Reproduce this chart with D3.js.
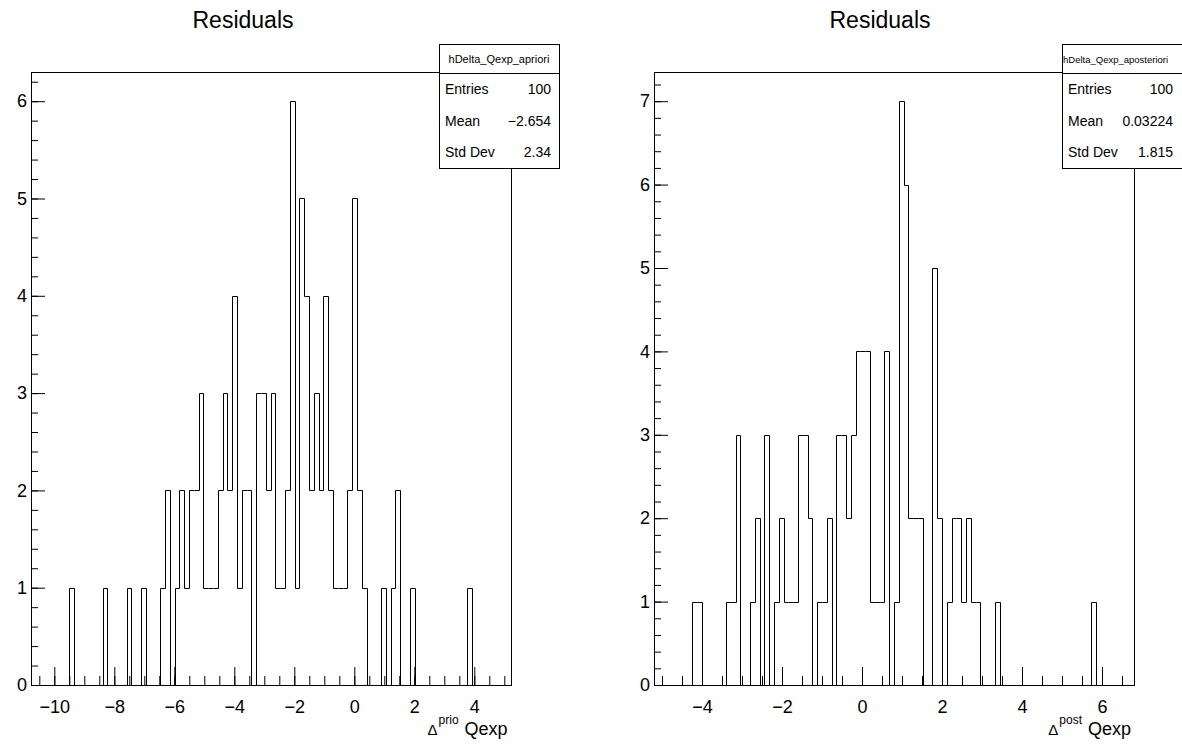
<!DOCTYPE html>
<html><head><meta charset="utf-8">
<script src="https://cdn.jsdelivr.net/npm/d3@7"></script>
<style>
html,body{margin:0;padding:0;background:#fff;}
svg{display:block;font-family:"Liberation Sans",Arial,Helvetica,sans-serif;}
</style></head><body>
<svg id="c" width="1182" height="744"></svg>
<script>
// ---------- data ----------
const leftCounts = [
  0,0,0,0,0,0,0,0,1,0,
  0,0,0,0,0,1,0,0,0,0,
  1,0,0,1,0,0,0,1,2,0,
  1,2,1,2,2,3,1,1,1,2,
  3,2,4,1,2,2,0,3,3,2,
  3,1,1,2,6,1,5,4,2,3,
  2,4,2,1,1,1,2,5,2,1,
  0,0,0,1,0,1,2,0,0,1,
  0,0,0,0,0,0,0,0,0,0,
  0,1,0,0,0,0,0,0,0,0
];
const rightCounts = [
  0,0,0,0,0,0,0,0,1,1,
  0,0,0,0,0,1,1,3,0,0,
  1,2,0,3,0,1,2,1,1,1,
  3,3,2,0,1,1,2,0,3,3,
  2,3,4,4,4,1,1,1,4,0,
  1,7,6,2,2,2,0,0,5,2,
  0,1,2,2,1,2,1,1,0,0,
  0,1,0,0,0,0,0,0,0,0,
  0,0,0,0,0,0,0,0,0,0,
  0,1,0,0,0,0,0,0,0,0
];
const leftRange = [-10.79, 5.21];
const rightRange = [-5.2, 6.8];
const leftXTicks = [-10,-8,-6,-4,-2,0,2,4];
const rightXTicks = [-4,-2,0,2,4,6];
const leftYTicks = [0,1,2,3,4,5,6];
const rightYTicks = [0,1,2,3,4,5,6,7];
const leftTitle = "Residuals";
const rightTitle = "Residuals";
const leftStatName = "hDelta_Qexp_apriori";
const rightStatName = "hDelta_Qexp_aposteriori";
const statLabels = ["Entries","Mean","Std Dev"];
const leftStatValues = ["100","\u22122.654","2.34"];
const rightStatValues = ["100","0.03224","1.815"];
const leftXSup = "prio";
const rightXSup = "post";

// ---------- drawing ----------
const svg = d3.select("#c");
svg.append("rect").attr("width",1182).attr("height",744).attr("fill","#fff");
const fmtTick = d => d<0 ? "\u2212"+Math.abs(d) : String(d);

function panel(p){
  const g = svg.append("g");
  const x = d3.scaleLinear().domain(p.range).range([p.x0, p.x1]);
  const maxC = d3.max(p.counts);
  const y = d3.scaleLinear().domain([0, maxC*1.05]).range([p.y0, p.y1]);
  const n = p.counts.length;
  const bw = (p.range[1]-p.range[0])/n;

  // frame
  g.append("rect")
    .attr("x", Math.round(p.x0)+0.5).attr("y", Math.round(p.y1)+0.5)
    .attr("width", Math.round(p.x1)-Math.round(p.x0))
    .attr("height", Math.round(p.y0)-Math.round(p.y1))
    .attr("fill","none").attr("stroke","#000").attr("stroke-width",1);

  // histogram outline
  const pts = [[p.range[0],0]];
  p.counts.forEach((c,i)=>{
    const a = p.range[0]+i*bw, b = p.range[0]+(i+1)*bw;
    pts.push([a,c],[b,c]);
  });
  pts.push([p.range[1],0]);
  const line = d3.line().x(d=>Math.round(x(d[0]))+0.5).y(d=>Math.round(y(d[1]))+0.5);
  g.append("path").attr("d", line(pts)).attr("fill","none")
    .attr("stroke","#000").attr("stroke-width",1);

  // x axis minor ticks
  const xmin = d3.range(Math.ceil(p.range[0]*2)/2, p.range[1]+1e-9, 0.5);
  const xMinorAx = d3.axisBottom(x).tickValues(xmin).tickSize(-9).tickFormat("").tickSizeOuter(0);
  const gxm = g.append("g").attr("transform",`translate(0,${Math.round(p.y0)})`).call(xMinorAx);
  gxm.select(".domain").remove();
  // x axis major
  const xAx = d3.axisBottom(x).tickValues(p.xticks).tickSize(-18).tickPadding(15)
    .tickFormat(fmtTick).tickSizeOuter(0);
  const gx = g.append("g").attr("transform",`translate(0,${Math.round(p.y0)})`).call(xAx);
  gx.select(".domain").remove();
  gx.selectAll("text").attr("font-size",18).attr("font-family","'Liberation Sans',Arial,sans-serif").attr("fill","#000");

  // y axis
  const ymin = d3.range(0, maxC*1.05+1e-9, 0.2);
  const yMinorAx = d3.axisLeft(y).tickValues(ymin).tickSize(-7).tickFormat("").tickSizeOuter(0);
  const gym = g.append("g").attr("transform",`translate(${Math.round(p.x0)},0)`).call(yMinorAx);
  gym.select(".domain").remove();
  const yAx = d3.axisLeft(y).tickValues(p.yticks).tickSize(-14).tickPadding(4)
    .tickFormat(fmtTick).tickSizeOuter(0);
  const gy = g.append("g").attr("transform",`translate(${Math.round(p.x0)},0)`).call(yAx);
  gy.select(".domain").remove();
  gy.selectAll("text").attr("font-size",18).attr("font-family","'Liberation Sans',Arial,sans-serif").attr("fill","#000");
  g.selectAll(".tick line").attr("stroke","#000");

  // x title
  const t = g.append("text").attr("x", p.x1-3).attr("y", 735).attr("text-anchor","end").attr("fill","#000");
  t.append("tspan").attr("font-size",15).text("\u0394");
  t.append("tspan").attr("font-size",12).attr("dy",-11).attr("dx",1).text(p.sup);
  t.append("tspan").attr("font-size",18).attr("dy",11).attr("dx",6).text("Qexp");

  // title
  g.append("text").attr("x", p.titleX).attr("y", 28).attr("text-anchor","middle")
    .attr("font-size",23).attr("fill","#000").text(p.title);

  // stat box
  const bx0 = Math.round(p.x1)-72, bx1 = Math.round(p.x1)+48;
  const by0 = 44, byd = 73, by1 = 168;
  g.append("rect").attr("x",bx0+0.5).attr("y",by0+0.5).attr("width",bx1-bx0).attr("height",by1-by0)
    .attr("fill","#fff").attr("stroke","#000").attr("stroke-width",1);
  g.append("line").attr("x1",bx0).attr("x2",bx1).attr("y1",byd+0.5).attr("y2",byd+0.5)
    .attr("stroke","#000").attr("stroke-width",1);
  const nt = g.append("text").attr("y", (by0+byd)/2+4).attr("font-size",p.nameSize).attr("fill","#000").text(p.name);
  if(p.nameAnchor==="start"){ nt.attr("x",bx0+1).attr("text-anchor","start"); }
  else { nt.attr("x",(bx0+bx1)/2).attr("text-anchor","middle"); }
  const rowH = (by1-byd)/3;
  statLabels.forEach((lab,i)=>{
    const cy = byd + rowH*(i+0.5);
    g.append("text").attr("x",bx0+6).attr("y",cy+5).attr("font-size",14).attr("fill","#000").text(lab);
    g.append("text").attr("x",bx1-p.valPad).attr("y",cy+5).attr("font-size",14).attr("text-anchor","end")
      .attr("fill","#000").text(p.values[i]);
  });
}

panel({counts:leftCounts, range:leftRange, x0:30.6, x1:510.6, y0:685, y1:72,
  xticks:leftXTicks, yticks:leftYTicks, title:leftTitle, titleX:243, sup:leftXSup,
  name:leftStatName, nameSize:11, nameAnchor:"middle", values:leftStatValues, valPad:8});
panel({counts:rightCounts, range:rightRange, x0:654, x1:1134, y0:685, y1:72,
  xticks:rightXTicks, yticks:rightYTicks, title:rightTitle, titleX:880, sup:rightXSup,
  name:rightStatName, nameSize:9.5, nameAnchor:"start", values:rightStatValues, valPad:9});
</script>
</body></html>
